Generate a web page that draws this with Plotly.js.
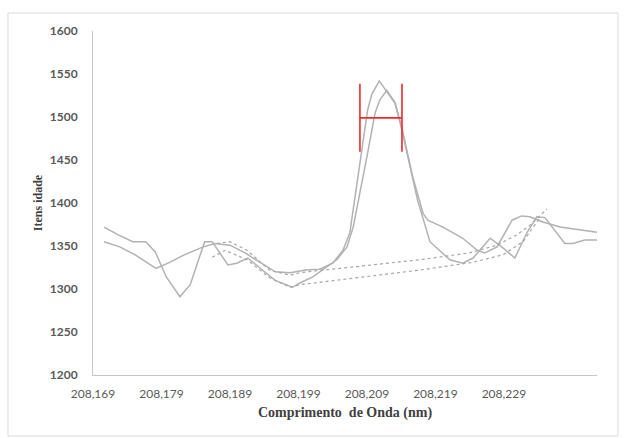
<!DOCTYPE html>
<html>
<head>
<meta charset="utf-8">
<script src="https://cdn.plot.ly/plotly-3.0.1.min.js"></script>
<style>html,body{margin:0;padding:0;background:#fff;}#chart{width:626px;height:438px;}</style>
</head>
<body>
<div id="chart"></div>
<script>
// Solid spectrum 1
const xA = [208.1706,208.1727,208.1748,208.1767,208.1781,208.1797,208.1817,208.1832,208.1853,208.1864,208.1887,208.1900,208.1916,208.1937,208.1956,208.1981,208.1992,208.2011,208.2046,208.2061,208.2070,208.2091,208.2102,208.2109,208.2119,208.2131,208.2141,208.2157,208.2172,208.2179,208.2201,208.2230,208.2251,208.2262,208.2280,208.2302,208.2316,208.2328,208.2347,208.2372,208.2426];
const yA = [1372,1363,1355,1355,1343,1314,1291,1305,1355,1355,1328,1330,1336,1322,1310,1302,1307,1314,1334,1349,1372,1458,1505,1520,1531,1517,1488,1430,1388,1380,1372,1359,1345,1342,1349,1380,1385,1384,1378,1372,1366];
// Solid spectrum 2
const xB = [208.1706,208.1729,208.1751,208.1782,208.1802,208.1824,208.1851,208.1868,208.1890,208.1912,208.1934,208.1956,208.1978,208.2000,208.2021,208.2040,208.2055,208.2065,208.2091,208.2097,208.2108,208.2118,208.2131,208.2141,208.2153,208.2164,208.2175,208.2182,208.2211,208.2230,208.2245,208.2270,208.2287,208.2306,208.2324,208.2338,208.2350,208.2372,208.2379,208.2391,208.2408,208.2426];
const yB = [1355,1349,1340,1324,1331,1340,1349,1353,1351,1342,1331,1320,1319,1322,1323,1330,1345,1365,1508,1526,1542,1531,1516,1485,1444,1403,1374,1355,1334,1330,1336,1359,1349,1336,1366,1384,1383,1360,1353,1353,1357,1357];
// Dotted baseline 1
const xC = [208.1871,208.1890,208.1915,208.1948,208.1978,208.1992,208.2167,208.2240,208.2280,208.2309,208.2328,208.2353];
const yC = [1353,1355,1345,1322,1316,1319,1334,1342,1351,1363,1374,1393];
// Dotted baseline 2
const xD = [208.1864,208.1883,208.1915,208.1948,208.1978,208.1992,208.2167,208.2245,208.2289,208.2318,208.2332,208.2343];
const yD = [1337,1345,1334,1313,1302,1305,1322,1331,1340,1355,1371,1383];
// FWHM marker
const fwhmX = [208.21105];
const fwhmY = [1499];
const fwhmHalf = [0.00307];
// Tick labels
const xTickVals = [208.169,208.179,208.189,208.199,208.209,208.219,208.229];
const xTickText = ['208,169','208,179','208,189','208,199','208,209','208,219','208,229'];

const solid = {color:'#b2b2b2', width:1.5};
const dotted = {color:'#a6a6a6', width:1.2, dash:'dot'};

const traces = [
  {x:xA, y:yA, mode:'lines', line:solid, hoverinfo:'skip'},
  {x:xB, y:yB, mode:'lines', line:solid, hoverinfo:'skip'},
  {x:xC, y:yC, mode:'lines', line:dotted, hoverinfo:'skip'},
  {x:xD, y:yD, mode:'lines', line:dotted, hoverinfo:'skip'},
  {x:fwhmX, y:fwhmY, mode:'markers', marker:{size:1, opacity:0},
   error_x:{type:'data', array:fwhmHalf, symmetric:true, width:34, thickness:1.6, color:'#f02828'}, hoverinfo:'skip'}
];

const layout = {
  width:626, height:438,
  margin:{l:93, r:29, t:31, b:63},
  paper_bgcolor:'#ffffff', plot_bgcolor:'#ffffff',
  showlegend:false,
  xaxis:{
    range:[208.169, 208.2426],
    tickvals:xTickVals, ticktext:xTickText,
    showgrid:false, zeroline:false,
    showline:true, linecolor:'#c6c6c6', linewidth:1,
    ticks:'', ticklabelstandoff:8,
    tickfont:{family:'Lato, sans-serif', size:12, color:'#595959'},
    title:{text:'Comprimento\u00a0 de Onda (nm)', standoff:6,
      font:{family:'Liberation Serif, serif', size:14, color:'#404040', weight:'bold'}}
  },
  yaxis:{
    range:[1200,1600], dtick:50, tick0:1200,
    showgrid:false, zeroline:false,
    showline:true, linecolor:'#c6c6c6', linewidth:1,
    ticks:'', ticklabelstandoff:12,
    tickfont:{family:'Lato, sans-serif', size:12, color:'#595959', weight:'bold'},
    title:{text:'Itens idade', standoff:4,
      font:{family:'Liberation Serif, serif', size:12, color:'#404040', weight:'bold'}}
  },
  shapes:[
    {type:'rect', xref:'paper', yref:'paper', x0:-0.1687, x1:1.0417, y0:-0.1773, y1:1.0523,
     line:{color:'#d9d9d9', width:1}, fillcolor:'rgba(0,0,0,0)', layer:'below'}
  ]
};

Plotly.newPlot('chart', traces, layout, {staticPlot:true, displayModeBar:false});
</script>
</body>
</html>
